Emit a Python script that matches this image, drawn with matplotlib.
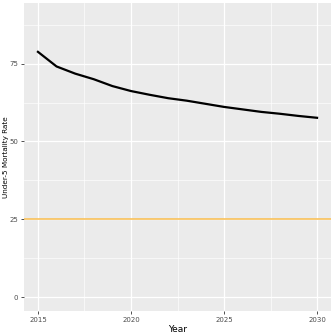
import matplotlib.pyplot as plt
from matplotlib.ticker import MultipleLocator

# Projected under-5 mortality rate by year
years = [2015, 2016, 2017, 2018, 2019, 2020, 2021, 2022, 2023,
         2024, 2025, 2026, 2027, 2028, 2029, 2030]
mortality = [78.8, 74.1, 71.8, 70.0, 67.8, 66.2, 65.0, 63.9, 63.1,
             62.1, 61.1, 60.3, 59.5, 58.9, 58.2, 57.6]
target = 25

fig = plt.figure(figsize=(3.36, 3.36), dpi=100)
ax = fig.add_axes([24 / 336, 25 / 336, 307 / 336, 308 / 336])
ax.set_facecolor('#EBEBEB')

ax.plot(years, mortality, color='black', linewidth=1.6, zorder=3)
ax.axhline(target, color='#F9C15A', linewidth=1.2, zorder=3)

ax.set_xlim(2014.25, 2030.75)
ax.set_ylim(-4.5, 94.5)
ax.xaxis.set_major_locator(MultipleLocator(5))
ax.xaxis.set_minor_locator(MultipleLocator(2.5))
ax.yaxis.set_major_locator(MultipleLocator(25))
ax.yaxis.set_minor_locator(MultipleLocator(12.5))

ax.grid(which='major', color='white', linewidth=0.9)
ax.grid(which='minor', color='white', linewidth=0.45)
ax.set_axisbelow(True)

for s in ax.spines.values():
    s.set_visible(False)

ax.tick_params(which='major', length=2, width=0.6, color='#333333',
               labelsize=5, labelcolor='#4D4D4D', pad=2)
ax.tick_params(which='minor', length=0)

ax.set_xlabel('Year', fontsize=6.5, color='black', labelpad=2)
ax.set_ylabel('Under-5 Mortality Rate', fontsize=5.2, color='black', va='center')
ax.yaxis.set_label_coords(-0.06, 0.5)

fig.savefig('out.png', dpi=100)
